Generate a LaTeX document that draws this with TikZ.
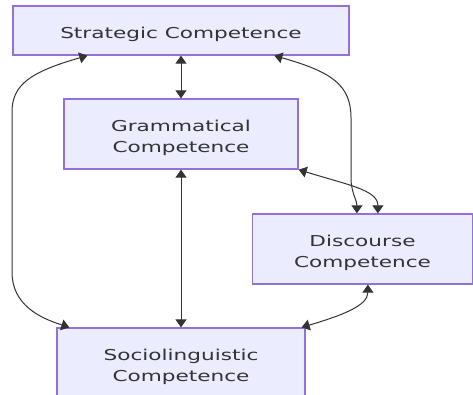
\documentclass[tikz,border=0pt]{standalone}
\usepackage{fontspec}
\setmainfont{DejaVu Sans}[FakeStretch=1.44]
\usetikzlibrary{arrows.meta,calc}
\definecolor{boxfill}{HTML}{ECECFF}
\definecolor{boxline}{HTML}{9370DB}
\definecolor{ink}{HTML}{333333}
\newcommand{\boxtext}[1]{\raisebox{-3.5pt}[\height][\depth]{\begin{tabular}{@{}c@{}}#1\end{tabular}}}
\tikzset{
  compbox/.style={draw=boxline, fill=boxfill, line width=1.3pt, inner sep=0pt,
    text=ink, font=\fontsize{15}{21}\selectfont},
  link/.style={draw=ink, line width=1pt, {Triangle[length=8pt,width=11pt]}-{Triangle[length=8pt,width=11pt]}}
}
\begin{document}
\begin{tikzpicture}[x=1pt,y=-1pt]
\clip (0,0) rectangle (473,395);
\fill[white] (0,0) rectangle (473,395);
\node[compbox, minimum width=336pt, minimum height=49pt] (s) at (181,30.5) {\boxtext{Strategic Competence}};
\node[compbox, minimum width=234pt, minimum height=70pt] (g) at (181,134) {\boxtext{Grammatical\\Competence}};
\node[compbox, minimum width=220pt, minimum height=70pt] (d) at (362.5,249) {\boxtext{Discourse\\Competence}};
\node[compbox, minimum width=248pt, minimum height=70pt] (c) at (181,363) {\boxtext{Sociolinguistic\\Competence}};
\draw[link] (s.south) -- (g.north);
\draw[link] (g.south) -- (c.north);
\draw[link] ($(s.south west)+(75,0)$) .. controls (30,72) and (12,85) .. (12,112) -- (12,272) .. controls (12,305) and (40,318) .. ($(c.north west)+(13,0)$);
\draw[link] ($(s.south west)+(262,0)$) .. controls (332,72) and (351,85) .. (351,118) -- (351,180) .. controls (352,195) and (357,200) .. ($(d.north west)+(105,0)$);
\draw[link] (g.south east) .. controls (348,185) and (378,190) .. ($(d.north west)+(126,0)$);
\draw[link] ($(d.south west)+(116,0)$) .. controls (368,306) and (340,316) .. ($(c.north east)+(-4,0)$);
\end{tikzpicture}
\end{document}
